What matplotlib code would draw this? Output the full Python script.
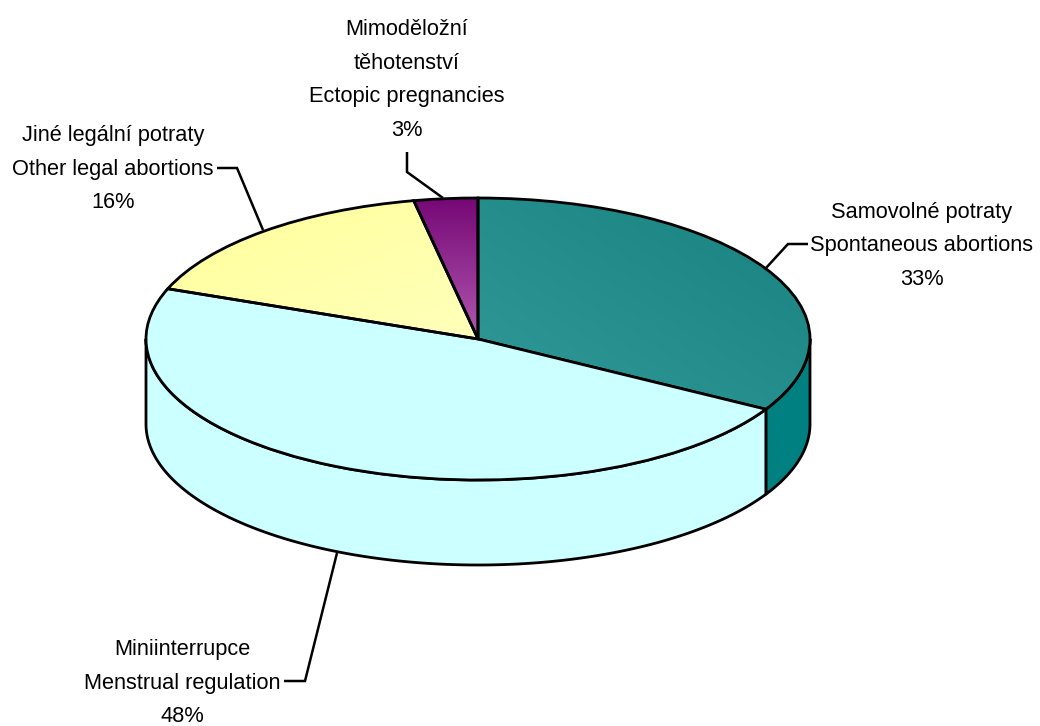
import numpy as np
import matplotlib
matplotlib.use('Agg')
import matplotlib.pyplot as plt
from matplotlib.patches import Polygon

plt.rcParams['font.family'] = ['Liberation Sans', 'DejaVu Sans']

names = ['Samovolné potraty\nSpontaneous abortions',
         'Miniinterrupce\nMenstrual regulation',
         'Jiné legální potraty\nOther legal abortions',
         'Mimoděložní\ntěhotenství\nEctopic pregnancies']
shares = [33.3, 47.5, 16.1, 3.1]
pct_labels = ['33%', '48%', '16%', '3%']

top_colors = ['#228c8a', '#ccffff', '#ffffaa', '#8f2f90']
side_colors = ['#008080', '#ccffff', '#ffffaa', '#800080']

grad_teal = ('#319a98', '#188280')
grad_yellow = ('#ffff99', '#ffffbb')
grad_purple = ('#760876', '#b058b0')

W, H = 1040, 726
depth = 85 / 141  # wall height in units of the vertical radius
LW = 2.0

fig = plt.figure(figsize=(W / 100, H / 100), dpi=100)
ax = fig.add_axes([146 / W, 1 - 565 / H, 664 / W, 367 / H])

wedges, _ = ax.pie(shares, colors=top_colors, startangle=90, counterclock=False, radius=1,
                   wedgeprops=dict(edgecolor='black', linewidth=LW, zorder=5))
ax.set_aspect('auto')


def rgb(c):
    return np.array(matplotlib.colors.to_rgb(c))


def gradient(c0, c1, mode):
    n = 200
    u, v = np.meshgrid(np.linspace(0, 1, n), np.linspace(0, 1, n))
    if mode == 'diag':      # c0 lower left -> c1 upper right
        t = (u + v) / 2
    elif mode == 'diag2':   # c0 upper left -> c1 lower right
        t = (u + (1 - v)) / 2
    else:                   # c0 top -> c1 bottom
        t = 1 - v
    return rgb(c0) * (1 - t[..., None]) + rgb(c1) * t[..., None]


def paint(wedge, img, extent):
    # the image is clipped by the wedge, outline is drawn again above it
    im = ax.imshow(img, extent=extent, origin='lower', aspect='auto', zorder=4)
    im.set_clip_path(wedge)
    wedge.set_zorder(5)
    wedge.set_facecolor('none')


paint(wedges[0], gradient(grad_teal[0], grad_teal[1], 'diag'), (0, 1, -0.5, 1))
paint(wedges[2], gradient(grad_yellow[0], grad_yellow[1], 'diag2'), (-1, 0, 0, 1))
paint(wedges[3], gradient(grad_purple[0], grad_purple[1], 'vert'), (-0.2, 0, 0, 1))

# side walls, only the part of each slice on the front half
edges = 90 - 3.6 * np.concatenate([[0], np.cumsum(shares)])
for i in range(len(shares)):
    a0, a1 = edges[i + 1] % 360, edges[i] % 360
    if a1 <= a0:
        a1 += 360
    a0f, a1f = max(a0, 180), min(a1, 360)
    if a1f <= a0f:
        continue
    th = np.radians(np.linspace(a0f, a1f, 200))
    upper = np.column_stack([np.cos(th), np.sin(th)])
    lower = upper[::-1] - [0, depth]
    ax.add_patch(Polygon(np.vstack([upper, lower]), closed=True, facecolor=side_colors[i],
                         edgecolor='black', linewidth=LW, joinstyle='round', zorder=3))

ax.set_xlim(-1, 1)
ax.set_ylim(-1 - depth, 1)
for p in ax.patches:
    p.set_clip_on(False)
ax.axis('off')

# overlay in pixel coordinates for labels and leader lines
ov = fig.add_axes([0, 0, 1, 1], zorder=10)
ov.set_xlim(0, W)
ov.set_ylim(H, 0)
ov.axis('off')

label_pos = [(922, 246), (182, 683), (113, 169), (407, 80)]
leaders = [[(766, 268), (788, 244), (808, 244)],
           [(337, 553), (305, 681), (284, 681)],
           [(263, 230), (237, 168), (217, 168)],
           [(443, 198), (407, 172), (407, 152)]]

for name, pct, pos in zip(names, pct_labels, label_pos):
    ov.text(pos[0], pos[1], name + '\n' + pct, ha='center', va='center', multialignment='center',
            fontsize=15.7, linespacing=1.8, color='black')
for pts in leaders:
    xs, ys = zip(*pts)
    ov.plot(xs, ys, color='black', lw=1.8, solid_joinstyle='miter', solid_capstyle='butt')

fig.savefig('out.png', dpi=100, facecolor='white')
